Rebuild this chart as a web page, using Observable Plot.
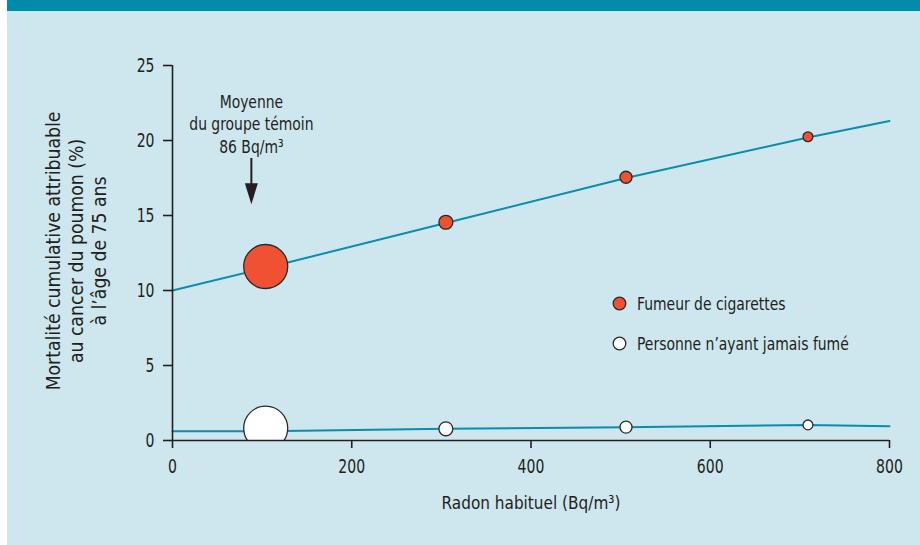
<!DOCTYPE html>
<html>
<head>
<meta charset="utf-8">
<script src="https://cdn.jsdelivr.net/npm/d3@7"></script>
<script src="https://cdn.jsdelivr.net/npm/@observablehq/plot@0.6"></script>
<style>
  html, body { margin: 0; padding: 0; background: #ffffff; }
  #page { position: relative; width: 920px; height: 545px; overflow: hidden; }
  #bg { position: absolute; left: 7px; top: 0; width: 913px; height: 545px; background: #cee7ee; }
  #band { position: absolute; left: 7px; top: 0; width: 913px; height: 11px; background: #008ca8; }
  #chart { position: absolute; left: 0; top: 0; }
  #legend { position: absolute; left: 0; top: 0; font-family: "Liberation Sans Narrow", "DejaVu Sans Condensed", "Roboto Condensed", sans-serif; font-size: 18px; color: #231f20; }
  .item { position: absolute; display: flex; align-items: center; white-space: nowrap; }
  .item svg { margin-right: 10px; flex: none; }
  .item span { display: inline-block; transform: scaleX(0.86); transform-origin: left center; }
</style>
</head>
<body>
<div id="page">
  <div id="bg"></div>
  <div id="band"></div>
  <div id="chart"></div>
  <div id="legend"></div>
</div>
<script>
// ---- data ----
const seriesNames = ["Fumeur de cigarettes", "Personne n\u2019ayant jamais fumé"];
const radon = [104, 305, 506, 709];                // Bq/m3 (category means)
const smokerMortality = [11.6, 14.55, 17.55, 20.25]; // %
const neverMortality = [0.82, 0.78, 0.89, 1.04];    // %
const weights = [100, 10, 7.5, 5];                  // relative weight (dot area)
const smokerLineX = [0, 104, 305, 506, 709, 800];
const smokerLineY = [10.0, 11.5, 14.5, 17.5, 20.2, 21.3];
const neverLineX = [0, 104, 305, 506, 709, 800];
const neverLineY = [0.62, 0.62, 0.78, 0.89, 1.04, 0.95];
const xTicks = [0, 200, 400, 600, 800];
const yTicks = [0, 5, 10, 15, 20, 25];
const xLabel = "Radon habituel (Bq/m³)";
const yLabelLines = ["Mortalité cumulative attribuable", "au cancer du poumon (%)", "à l\u2019âge de 75 ans"];
const annotLines = ["Moyenne", "du groupe témoin", "86 Bq/m³"];
const annotX = 88;
const annotY = 21.15;
const arrowFrom = 18.8;
const arrowTo = 15.75;

const FONT = '"Liberation Sans Narrow", "DejaVu Sans Condensed", "Roboto Condensed", sans-serif';
const INK = "#231f20";
const TEAL = "#0b8eaa";
const RED = "#f05133";

const smokers = radon.map((x, i) => ({x, y: smokerMortality[i], w: weights[i]}));
const never = radon.map((x, i) => ({x, y: neverMortality[i], w: weights[i]}));
const smokerLine = smokerLineX.map((x, i) => ({x, y: smokerLineY[i]}));
const neverLine = neverLineX.map((x, i) => ({x, y: neverLineY[i]}));

const arrowHead = {
  draw(ctx) {
    ctx.moveTo(-6.5, -21);
    ctx.lineTo(6.5, -21);
    ctx.lineTo(0, 0);
    ctx.closePath();
  }
};

const chart = Plot.plot({
  width: 920,
  height: 545,
  marginLeft: 172,
  marginRight: 31,
  marginTop: 65,
  marginBottom: 105,
  style: {background: "transparent", fontFamily: FONT, fontSize: "18px", color: INK, overflow: "visible"},
  x: {domain: [0, 800]},
  y: {domain: [0, 25]},
  r: {type: "sqrt", domain: [0, 100], range: [0, 22]},
  marks: [
    Plot.line(smokerLine, {x: "x", y: "y", stroke: TEAL, strokeWidth: 2}),
    Plot.line(neverLine, {x: "x", y: "y", stroke: TEAL, strokeWidth: 2}),
    Plot.dot(smokers, {x: "x", y: "y", r: "w", fill: RED, stroke: "#2a2a2a", strokeWidth: 1.3}),
    Plot.dot(never, {x: "x", y: "y", r: "w", fill: "#ffffff", stroke: "#2a2a2a", strokeWidth: 1.3, clip: "frame"}),
    Plot.ruleY([0], {stroke: INK, strokeWidth: 1.6}),
    Plot.ruleX([0], {stroke: INK, strokeWidth: 1.6}),
    Plot.axisX({ticks: xTicks, tickSize: 8, tickPadding: 10, tickFormat: d => String(d), label: null, stroke: INK, strokeWidth: 1.6, fill: INK, fontSize: 20}),
    Plot.axisY({ticks: yTicks, tickSize: 9, tickPadding: 9, tickFormat: d => String(d), label: null, stroke: INK, strokeWidth: 1.6, fill: INK, fontSize: 20}),
    Plot.text([xLabel], {frameAnchor: "bottom", text: d => d, dy: 63, lineAnchor: "middle", fill: INK, fontSize: 18.5}),
    Plot.text([yLabelLines.join("\n")], {frameAnchor: "left", text: d => d, rotate: -90, dx: -97, dy: -2, textAnchor: "middle", lineAnchor: "middle", lineHeight: 1.15, fill: INK, fontSize: 20}),
    Plot.text([annotX], {x: d => d, y: annotY, text: () => annotLines.join("\n"), lineAnchor: "middle", lineHeight: 1.25, fill: INK, fontSize: 18}),
    Plot.ruleX([annotX], {y1: arrowFrom, y2: arrowTo + 1, stroke: INK, strokeWidth: 2}),
    Plot.dot([annotX], {x: d => d, y: arrowTo, symbol: arrowHead, r: 5, fill: INK, stroke: "none"})
  ]
});
document.getElementById("chart").appendChild(chart);

// narrow the glyphs to mimic the condensed typeface of the original
function squeeze(texts, s) {
  texts.forEach(t => {
    const tr = t.getAttribute("transform");
    if (tr) {
      t.setAttribute("transform", tr + ` scale(${s},1)`);
    } else {
      const x = +(t.getAttribute("x") || 0), y = +(t.getAttribute("y") || 0);
      t.removeAttribute("x"); t.removeAttribute("y");
      t.setAttribute("transform", `translate(${x},${y}) scale(${s},1)`);
    }
  });
}
squeeze(chart.querySelectorAll('g[aria-label="x-axis tick label"] text'), 0.78);
squeeze(chart.querySelectorAll('g[aria-label="y-axis tick label"] text'), 0.78);
const textGroups = chart.querySelectorAll('g[aria-label="text"]');
const textScales = [0.92, 0.96, 0.86];
textGroups.forEach((g, i) => squeeze(g.querySelectorAll(":scope > text"), textScales[i] ?? 1));

// ---- legend (HTML) ----
const legendColors = [RED, "#ffffff"];
const legendTops = [303, 343];
const legend = document.getElementById("legend");
seriesNames.forEach((name, i) => {
  const item = document.createElement("div");
  item.className = "item";
  item.style.left = "612px";
  item.style.top = (legendTops[i] - 12) + "px";
  item.style.height = "24px";
  item.innerHTML = `<svg width="15" height="15" viewBox="0 0 15 15"><circle cx="7.5" cy="7.5" r="6.3" fill="${legendColors[i]}" stroke="#2a2a2a" stroke-width="1.3"/></svg><span>${name}</span>`;
  legend.appendChild(item);
});
</script>
</body>
</html>
